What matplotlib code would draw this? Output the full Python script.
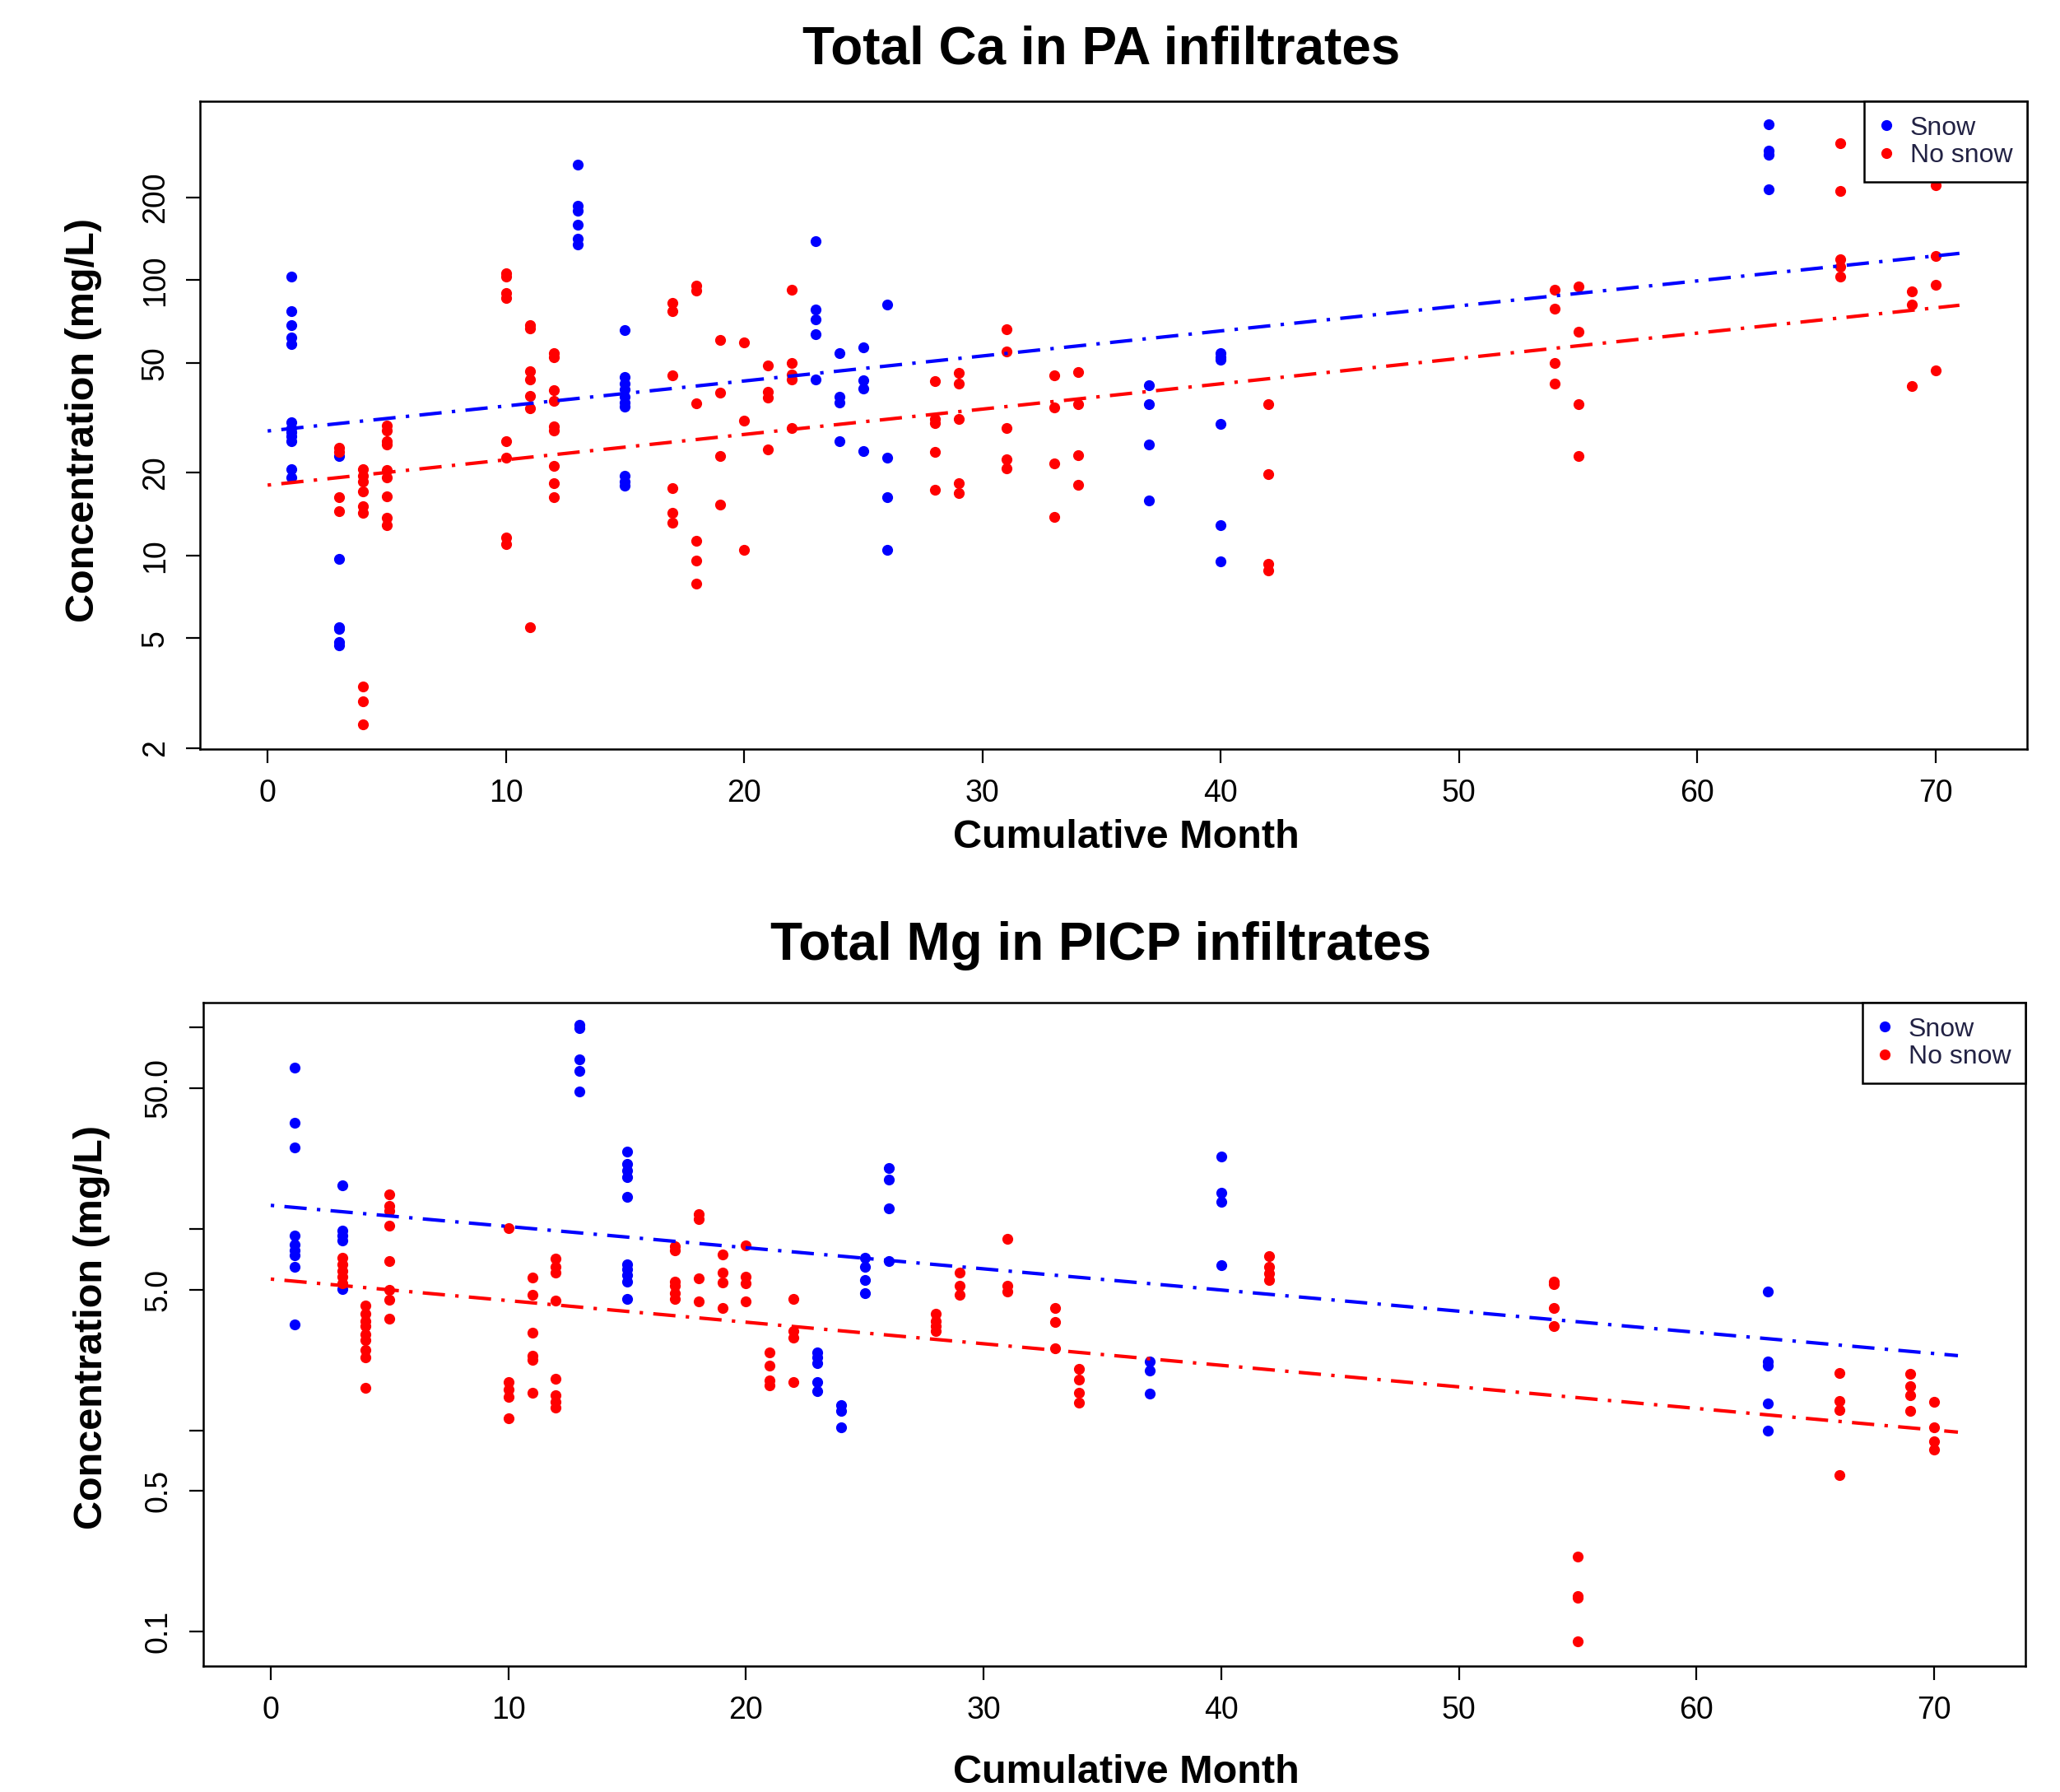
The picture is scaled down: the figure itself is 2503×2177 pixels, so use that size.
import matplotlib
matplotlib.use("Agg")
import matplotlib.pyplot as plt
from matplotlib.ticker import NullLocator

# values; month -> concentrations (mg/L)
CA_SNOW = {
    1: [103, 77, 68.7, 62, 58.5, 30.5, 29, 28, 27, 26, 20.6, 19.2],
    3: [23.0, 9.7, 5.5, 5.4, 4.83, 4.7],
    13: [263, 186, 178, 159, 141, 135],
    15: [65.8, 44.6, 42.2, 40, 37.8, 35.8, 34.6, 19.5, 18.5, 17.9],
    23: [138.6, 78, 72, 63.5, 43.5],
    24: [54.2, 37.8, 35.8, 26.0],
    25: [56.8, 43.1, 40.4, 23.9],
    26: [81.3, 22.7, 16.3, 10.5],
    37: [41.5, 35.3, 25.3, 15.8],
    40: [54.3, 52.5, 51.5, 30.1, 12.9, 9.5],
    63: [369, 295, 285, 213],
}
CA_NOSNOW = {
    3: [24.6, 23.7, 16.3, 14.5],
    4: [20.5, 19.5, 18.5, 17.1, 15.1, 14.3, 3.34, 2.95, 2.44],
    5: [29.7, 28.5, 26, 25.3, 20.4, 19.2, 16.4, 13.7, 12.9],
    10: [105.8, 103, 90, 86, 26, 22.7, 11.6, 11.0],
    11: [68.7, 66.5, 46.8, 43.5, 38, 34.3, 5.47],
    12: [54.3, 52.4, 39.7, 36.3, 29.5, 28.5, 21.1, 18.3, 16.3],
    17: [82.8, 77, 45, 17.5, 14.3, 13.1],
    18: [95.7, 91.5, 35.7, 11.3, 9.6, 7.9],
    19: [60.5, 38.9, 22.9, 15.3],
    20: [59.4, 30.9, 10.5],
    21: [48.8, 39.3, 37.5, 24.2],
    22: [92.3, 49.8, 45.4, 43.4, 29.0],
    28: [42.9, 31.2, 30.3, 23.8, 17.3],
    29: [45.9, 42.2, 31.2, 18.3, 16.8],
    31: [66.2, 55.0, 29.0, 22.3, 20.7],
    33: [45, 34.4, 21.6, 13.8],
    34: [46.4, 35.3, 23.1, 18.0],
    42: [35.3, 19.7, 9.3, 8.8],
    54: [92.3, 78.8, 50.1, 42.2],
    55: [95, 65.1, 35.3, 22.9],
    66: [315, 210, 118.7, 111.6, 102.8],
    69: [90.7, 81.5, 41.2],
    70: [221, 122, 96, 47.1],
}
MG_SNOW = {
    1: [63.5, 33.8, 25.4, 9.3, 8.4, 7.8, 7.4, 6.5, 3.36],
    3: [16.5, 9.8, 9.3, 8.8, 5.03],
    13: [103, 99, 69.6, 60.9, 48.3],
    15: [24.3, 21.0, 19.5, 18.1, 14.5, 6.7, 6.3, 5.9, 5.5, 4.5],
    23: [2.44, 2.3, 2.15, 1.73, 1.57],
    24: [1.34, 1.25, 1.04],
    25: [7.2, 6.5, 5.6, 4.8],
    26: [20.0, 17.6, 12.7, 6.9],
    37: [2.2, 1.98, 1.53],
    40: [22.9, 15.1, 13.6, 6.6],
    63: [4.9, 2.2, 2.1, 1.36, 1.0],
}
MG_NOSNOW = {
    3: [7.2, 6.7, 6.2, 5.8, 5.35],
    4: [4.16, 3.8, 3.5, 3.3, 3.0, 2.8, 2.5, 2.3, 1.63],
    5: [14.9, 13.0, 12.3, 10.4, 6.9, 4.98, 4.45, 3.6],
    10: [10.05, 1.73, 1.6, 1.46, 1.15],
    11: [5.74, 4.73, 3.05, 2.35, 2.25, 1.54],
    12: [7.1, 6.5, 6.1, 4.4, 1.8, 1.49, 1.38, 1.30],
    17: [8.2, 7.8, 5.46, 5.2, 4.8, 4.5],
    18: [11.8, 11.2, 5.7, 4.35],
    19: [7.45, 6.05, 5.4, 4.06],
    20: [8.3, 5.8, 5.35, 4.35],
    21: [2.44, 2.1, 1.77, 1.68],
    22: [4.5, 3.12, 2.9, 1.73],
    28: [3.8, 3.5, 3.3, 3.1],
    29: [6.1, 5.2, 4.7],
    31: [8.9, 5.2, 4.9],
    33: [4.06, 3.45, 2.56],
    34: [2.02, 1.78, 1.54, 1.37],
    42: [7.3, 6.5, 6.0, 5.6],
    54: [5.5, 5.3, 4.06, 3.3],
    55: [0.236, 0.150, 0.147, 0.090],
    66: [1.93, 1.40, 1.26, 0.6],
    69: [1.9, 1.66, 1.49, 1.25],
    70: [1.38, 1.04, 0.88, 0.80],
}

# fitted trend lines (log-linear), value at month 0 and month 71
FIT_MONTHS = [0, 71]
CA_FIT_SNOW = [28.3, 125]
CA_FIT_NOSNOW = [18.0, 81]
MG_FIT_SNOW = [13.1, 2.35]
MG_FIT_NOSNOW = [5.64, 0.98]

CA_YTICKS = [2, 5, 10, 20, 50, 100, 200]
CA_YLABELS = ["2", "5", "10", "20", "50", "100", "200"]
MG_YTICKS = [0.1, 0.5, 1, 5, 10, 50, 100]
MG_YLABELS = ["0.1", "0.5", "", "5.0", "", "50.0", ""]
XTICKS = [0, 10, 20, 30, 40, 50, 60, 70]

SNOW_C = "#0000FF"
NOSNOW_C = "#FF0000"

plt.rcParams["font.family"] = ["Liberation Sans", "DejaVu Sans"]

W, H = 2503, 2177
fig = plt.figure(figsize=(W / 100, H / 100), dpi=100)


def flat(d):
    xs, ys = [], []
    for m, vals in d.items():
        xs += [m] * len(vals)
        ys += vals
    return xs, ys


def panel(rect, snow, nosnow, fit_s, fit_n, yticks, ylabels, ylim):
    ax = fig.add_axes(rect)
    for d, c, lab in ((snow, SNOW_C, "Snow"), (nosnow, NOSNOW_C, "No snow")):
        x, y = flat(d)
        ax.plot(x, y, "o", color=c, ms=9.5, mec="none", label=lab)
    dotdash = (0, (1, 3, 6.5, 3))
    ax.plot(FIT_MONTHS, fit_s, color=SNOW_C, lw=3, ls=dotdash)
    ax.plot(FIT_MONTHS, fit_n, color=NOSNOW_C, lw=3, ls=dotdash)
    ax.set_yscale("log")
    ax.set_xlim(-2.84, 73.84)
    ax.set_ylim(*ylim)
    ax.set_yticks(yticks)
    ax.set_yticklabels(ylabels, rotation=90, va="center")
    ax.yaxis.set_minor_locator(NullLocator())
    ax.set_xticks(XTICKS)
    ax.tick_params(labelsize=27, width=1.6, length=12, pad=14)
    for s in ax.spines.values():
        s.set_linewidth(1.8)
    leg = ax.legend(loc="upper right", borderaxespad=0, fancybox=False,
                    edgecolor="black", framealpha=1, fontsize=23,
                    markerscale=1.0, handlelength=0.6, handletextpad=0.6,
                    borderpad=0.55, labelspacing=0.1)
    leg.get_frame().set_linewidth(1.8)
    for t in leg.get_texts():
        t.set_color("#222244")
    return ax


ax1 = panel([243 / W, 1 - 910 / H, 2220 / W, 787 / H], CA_SNOW, CA_NOSNOW,
            CA_FIT_SNOW, CA_FIT_NOSNOW, CA_YTICKS, CA_YLABELS, (1.98, 446))
ax2 = panel([247 / W, 1 - 2024 / H, 2214 / W, 806 / H], MG_SNOW, MG_NOSNOW,
            MG_FIT_SNOW, MG_FIT_NOSNOW, MG_YTICKS, MG_YLABELS, (0.0676, 133))

tkw = dict(ha="center", va="center", fontweight="bold")
fig.text(1338 / W, 1 - 61 / H, "Total Ca in PA infiltrates", fontsize=46, **tkw)
fig.text(1338 / W, 1 - 1149 / H, "Total Mg in PICP infiltrates", fontsize=46, **tkw)
fig.text(1368 / W, 1 - 1018 / H, "Cumulative Month", fontsize=35, **tkw)
fig.text(1368 / W, 1 - 2153 / H, "Cumulative Month", fontsize=35, **tkw)
fig.text(102 / W, 1 - 511 / H, "Concentration (mg/L)", fontsize=35, rotation=90, **tkw)
fig.text(112 / W, 1 - 1612 / H, "Concentration (mg/L)", fontsize=35, rotation=90, **tkw)

fig.savefig("out.png", dpi=100)
